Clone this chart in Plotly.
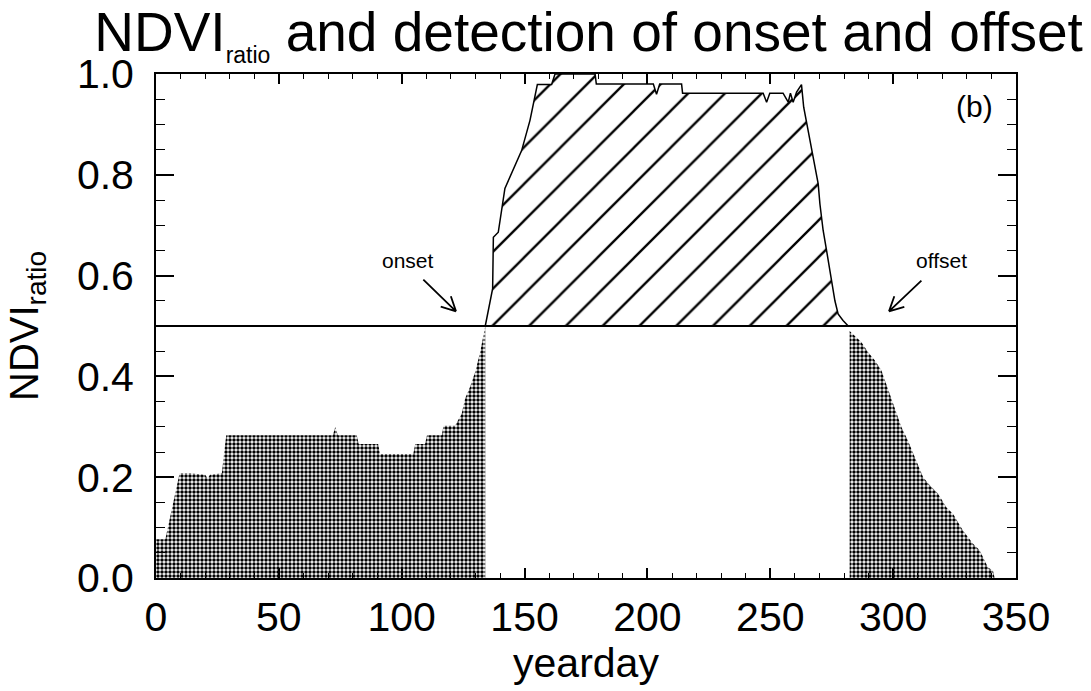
import math
import plotly.graph_objects as go

# ---------------- data ----------------
threshold = 0.5

pre_days = [0, 2.5, 3.8, 9.6, 14, 20, 21, 22, 26.8, 28.0, 28.6, 50, 72, 73, 74,
            81.7, 82.5, 90.4, 91.2, 104.7, 105.5, 109.5, 110.3, 116.3, 117,
            121.7, 124.4, 125.8, 127.8, 130, 132, 134]
pre_vals = [0.077, 0.077, 0.077, 0.208, 0.208, 0.205, 0.198, 0.205, 0.208, 0.26, 0.283,
            0.283, 0.283, 0.30, 0.283, 0.283, 0.266, 0.266, 0.246, 0.246, 0.266,
            0.266, 0.283, 0.283, 0.302, 0.302, 0.326, 0.356, 0.379, 0.41, 0.45, 0.5]

mid_days = [134, 137, 137.3, 139.3, 142, 147.5, 148.8, 152.2, 155.2, 161, 162.4,
            178.7, 179.2, 202.4, 203.7, 205, 213.9, 214.3, 247.1, 248.5, 249.8,
            255.2, 257.3, 258.2, 259.3, 260.7, 262.7, 263.6, 265.4, 267.4, 269.5,
            270.2, 271.5, 272.9, 274.2, 276.3, 277.6, 279.6, 281.7]
mid_vals = [0.5, 0.574, 0.676, 0.686, 0.773, 0.832, 0.848, 0.908, 0.979, 0.979, 1.0,
            1.0, 0.98, 0.98, 0.96, 0.98, 0.98, 0.962, 0.962, 0.944, 0.962,
            0.962, 0.944, 0.962, 0.944, 0.964, 0.979, 0.934, 0.885, 0.835, 0.782,
            0.742, 0.69, 0.65, 0.61, 0.55, 0.524, 0.511, 0.5]

post_days = [282.3, 284.4, 287.1, 289.8, 292.5, 295.2, 297.9, 300.7, 303.4, 306,
             309.5, 312.2, 314.9, 318.3, 321.7, 324.4, 328.4, 332.5, 335.2, 338.6,
             340.6, 341.3]
post_vals = [0.49, 0.48, 0.468, 0.448, 0.432, 0.412, 0.375, 0.339, 0.299, 0.273,
             0.233, 0.2, 0.184, 0.167, 0.14, 0.127, 0.094, 0.068, 0.055, 0.021,
             0.015, 0.0]

onset_day = mid_days[0]
offset_day = mid_days[-1]

x_ticks = [0, 50, 100, 150, 200, 250, 300, 350]
y_ticks = [0.0, 0.2, 0.4, 0.6, 0.8, 1.0]

# ---------------- layout geometry ----------------
W, H = 1091, 691
ML, MR, MT, MB = 156, 75, 74, 113
X_RANGE = [0, 350]
Y_RANGE = [0, 1.0]
px_per_x = (W - ML - MR) / (X_RANGE[1] - X_RANGE[0])
px_per_y = (H - MT - MB) / (Y_RANGE[1] - Y_RANGE[0])

FONT = "Liberation Sans, Arial, Helvetica, sans-serif"

dot_pattern = dict(shape=".", size=4, solidity=0.6, fgcolor="black",
                   bgcolor="white", fillmode="replace")

fig = go.Figure()

# dotted area before onset
fig.add_trace(go.Scatter(x=pre_days, y=pre_vals, mode="lines",
                         line=dict(width=0, color="black"),
                         fill="tozeroy", fillpattern=dot_pattern,
                         showlegend=False, hoverinfo="skip"))
# dotted area after offset
fig.add_trace(go.Scatter(x=post_days, y=post_vals, mode="lines",
                         line=dict(width=0, color="black"),
                         fill="tozeroy", fillpattern=dot_pattern,
                         showlegend=False, hoverinfo="skip"))
# base of hatched region (threshold)
fig.add_trace(go.Scatter(x=[onset_day, offset_day], y=[threshold, threshold],
                         mode="lines", line=dict(width=0, color="black"),
                         showlegend=False, hoverinfo="skip"))
# hatched region above threshold
fig.add_trace(go.Scatter(x=mid_days, y=mid_vals, mode="lines",
                         line=dict(width=1.5, color="black"),
                         fill="tonexty",
                         fillpattern=dict(shape="/", size=26, solidity=0.09,
                                          fgcolor="black", bgcolor="white",
                                          fillmode="replace"),
                         showlegend=False, hoverinfo="skip"))
# threshold line across the whole plot
fig.add_trace(go.Scatter(x=X_RANGE, y=[threshold, threshold], mode="lines",
                         line=dict(width=2, color="black"),
                         showlegend=False, hoverinfo="skip"))


def arrow_shapes(tail, head, wing_px=16, ang_deg=27):
    """open V arrow from tail to head (data coords), wings sized in pixels"""
    tx, ty = tail[0] * px_per_x, tail[1] * px_per_y
    hx, hy = head[0] * px_per_x, head[1] * px_per_y
    dx, dy = tx - hx, ty - hy
    n = math.hypot(dx, dy)
    ux, uy = dx / n, dy / n
    path = f"M {tail[0]},{tail[1]} L {head[0]},{head[1]}"
    for s in (1, -1):
        a = math.radians(ang_deg) * s
        wx = ux * math.cos(a) - uy * math.sin(a)
        wy = ux * math.sin(a) + uy * math.cos(a)
        px = (hx + wx * wing_px) / px_per_x
        py = (hy + wy * wing_px) / px_per_y
        path += f" M {head[0]},{head[1]} L {px},{py}"
    return dict(type="path", xref="x", yref="y", path=path,
                line=dict(color="black", width=1.8))


shapes = [
    arrow_shapes((108.8, 0.592), (122.1, 0.529)),
    arrow_shapes((311.5, 0.590), (298.3, 0.529)),
]

annotations = [
    dict(x=102.6, y=0.63, xref="x", yref="y", text="onset", showarrow=False,
         font=dict(size=21, color="black", family=FONT)),
    dict(x=319.6, y=0.63, xref="x", yref="y", text="offset", showarrow=False,
         font=dict(size=21, color="black", family=FONT)),
    dict(x=333, y=0.935, xref="x", yref="y", text="(b)", showarrow=False,
         font=dict(size=30, color="black", family=FONT)),
]

axis_common = dict(showline=True, linewidth=1.8, linecolor="black",
                   mirror="allticks", ticks="inside", tickcolor="black",
                   tickwidth=1.5, showgrid=False, zeroline=False,
                   tickfont=dict(size=41, color="black", family=FONT))

fig.update_layout(
    width=W, height=H, autosize=False,
    margin=dict(l=ML, r=MR, t=MT, b=MB, pad=0),
    paper_bgcolor="white", plot_bgcolor="white",
    font=dict(family=FONT, color="black"),
    title=dict(text='NDVI<sub><span style="font-size:23px">ratio</span></sub> and detection of onset and offset',
               x=588.5 / W, xref="container", xanchor="center",
               y=1 - 32 / H, yref="container", yanchor="middle",
               font=dict(size=55, color="black", family=FONT)),
    xaxis=dict(range=X_RANGE, tickmode="array", tickvals=x_ticks,
               ticklen=10, ticklabelstandoff=2,
               minor=dict(dtick=10, tick0=0, ticklen=5, ticks="inside",
                          tickcolor="black", tickwidth=1.2),
               title=dict(text="yearday", font=dict(size=41, family=FONT, color="black"),
                          standoff=0),
               **axis_common),
    yaxis=dict(range=Y_RANGE, tickmode="array", tickvals=y_ticks,
               tickformat=".1f", ticklen=18, ticklabelstandoff=12,
               minor=dict(dtick=0.05, tick0=0, ticklen=9, ticks="inside",
                          tickcolor="black", tickwidth=1.2),
               title=dict(text="NDVI<sub>ratio</sub>", font=dict(size=40, family=FONT, color="black"),
                          standoff=26),
               **axis_common),
    shapes=shapes,
    annotations=annotations,
)

fig.write_html("out.html")
